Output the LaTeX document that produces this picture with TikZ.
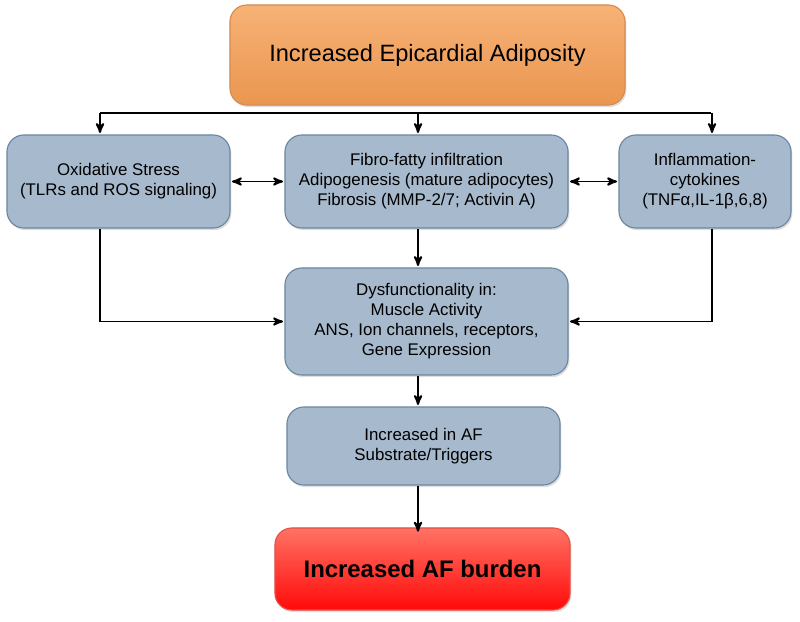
\documentclass[tikz,border=0pt]{standalone}
\usepackage{fontspec}
\setmainfont{Liberation Sans}
\usepackage{tikz}
\usetikzlibrary{shadows}
\usetikzlibrary{positioning}
\usetikzlibrary{arrows}

\definecolor{boxblue}{RGB}{167,185,204}
\definecolor{edgeblue}{RGB}{108,134,160}
\definecolor{orangetop}{RGB}{247,178,118}
\definecolor{orangebot}{RGB}{234,150,80}
\definecolor{orangeedge}{RGB}{214,140,80}
\definecolor{redtop}{RGB}{255,115,100}
\definecolor{redbot}{RGB}{255,10,10}
\definecolor{rededge}{RGB}{230,80,70}

\begin{document}
\begin{tikzpicture}[x=0.025cm,y=-0.025cm,>=stealth',shorten >=1pt,
	line width=1.4pt,
	main box/.style={rectangle,rounded corners=12pt,draw=edgeblue,line width=0.8pt,
		fill=boxblue,align=center,font=\fontsize{12}{14.2}\selectfont,
		minimum height=2.325cm,drop shadow={opacity=0.25,shadow xshift=1pt,shadow yshift=-1.5pt}},
	top box/.style={main box,draw=orangeedge,top color=orangetop,bottom color=orangebot,
		font=\fontsize{16.8}{19}\selectfont},
	end box/.style={main box,draw=rededge,top color=redtop,bottom color=redbot,
		font=\fontsize{17}{20}\selectfont\bfseries}]
	
	\useasboundingbox (0,0) rectangle (800,622);
	
	\node[top box,minimum width=9.875cm,minimum height=2.5cm] (adip) at (427.5,55) {Increased Epicardial Adiposity};
	\node[main box,minimum width=5.575cm] (oxid) at (118.5,181.5) {Oxidative Stress\\(TLRs and ROS signaling)};
	\node[main box,minimum width=7.075cm] (fibro) at (426.5,181.5) {Fibro-fatty infiltration\\Adipogenesis (mature adipocytes)\\Fibrosis (MMP-2/7; Activin A)};
	\node[main box,minimum width=4.3cm] (infl) at (705,181.5) {Inflammation-\\cytokines\\(TNFα,IL-1β,6,8)};
	\node[main box,minimum width=7.075cm,minimum height=2.675cm] (dysf) at (426.5,321.5) {Dysfunctionality in:\\Muscle Activity\\ANS, Ion channels, receptors,\\Gene Expression};
	\node[main box,minimum width=6.825cm,minimum height=1.95cm] (subst) at (423.5,446) {Increased in AF\\Substrate/Triggers};
	\node[end box,minimum width=7.375cm,minimum height=2.05cm] (burden) at (422.5,569) {Increased AF burden};
	
	\coordinate (busL) at (100,113);
	\coordinate (busM) at (418,113);
	\coordinate (busR) at (712,113);
	
	\draw (busL) -- (busR);
	\draw[->] (busL) -- (busL |- oxid.north);
	\draw[->] (busM) -- (busM |- fibro.north);
	\draw[->] (busR) -- (busR |- infl.north);
	\draw[<->,shorten <=1pt] (oxid) -- (fibro);
	\draw[<->,shorten <=1pt] (fibro) -- (infl);
	\draw[->] (busM |- fibro.south) -- (busM |- dysf.north);
	\draw[->] (busL |- oxid.south) |- (dysf.west);
	\draw[->] (busR |- infl.south) |- (dysf.east);
	\draw[->] (busM |- dysf.south) -- (busM |- subst.north);
	\draw[->] (busM |- subst.south) -- ([yshift=-4pt]busM |- burden.north);
\end{tikzpicture}
\end{document}
